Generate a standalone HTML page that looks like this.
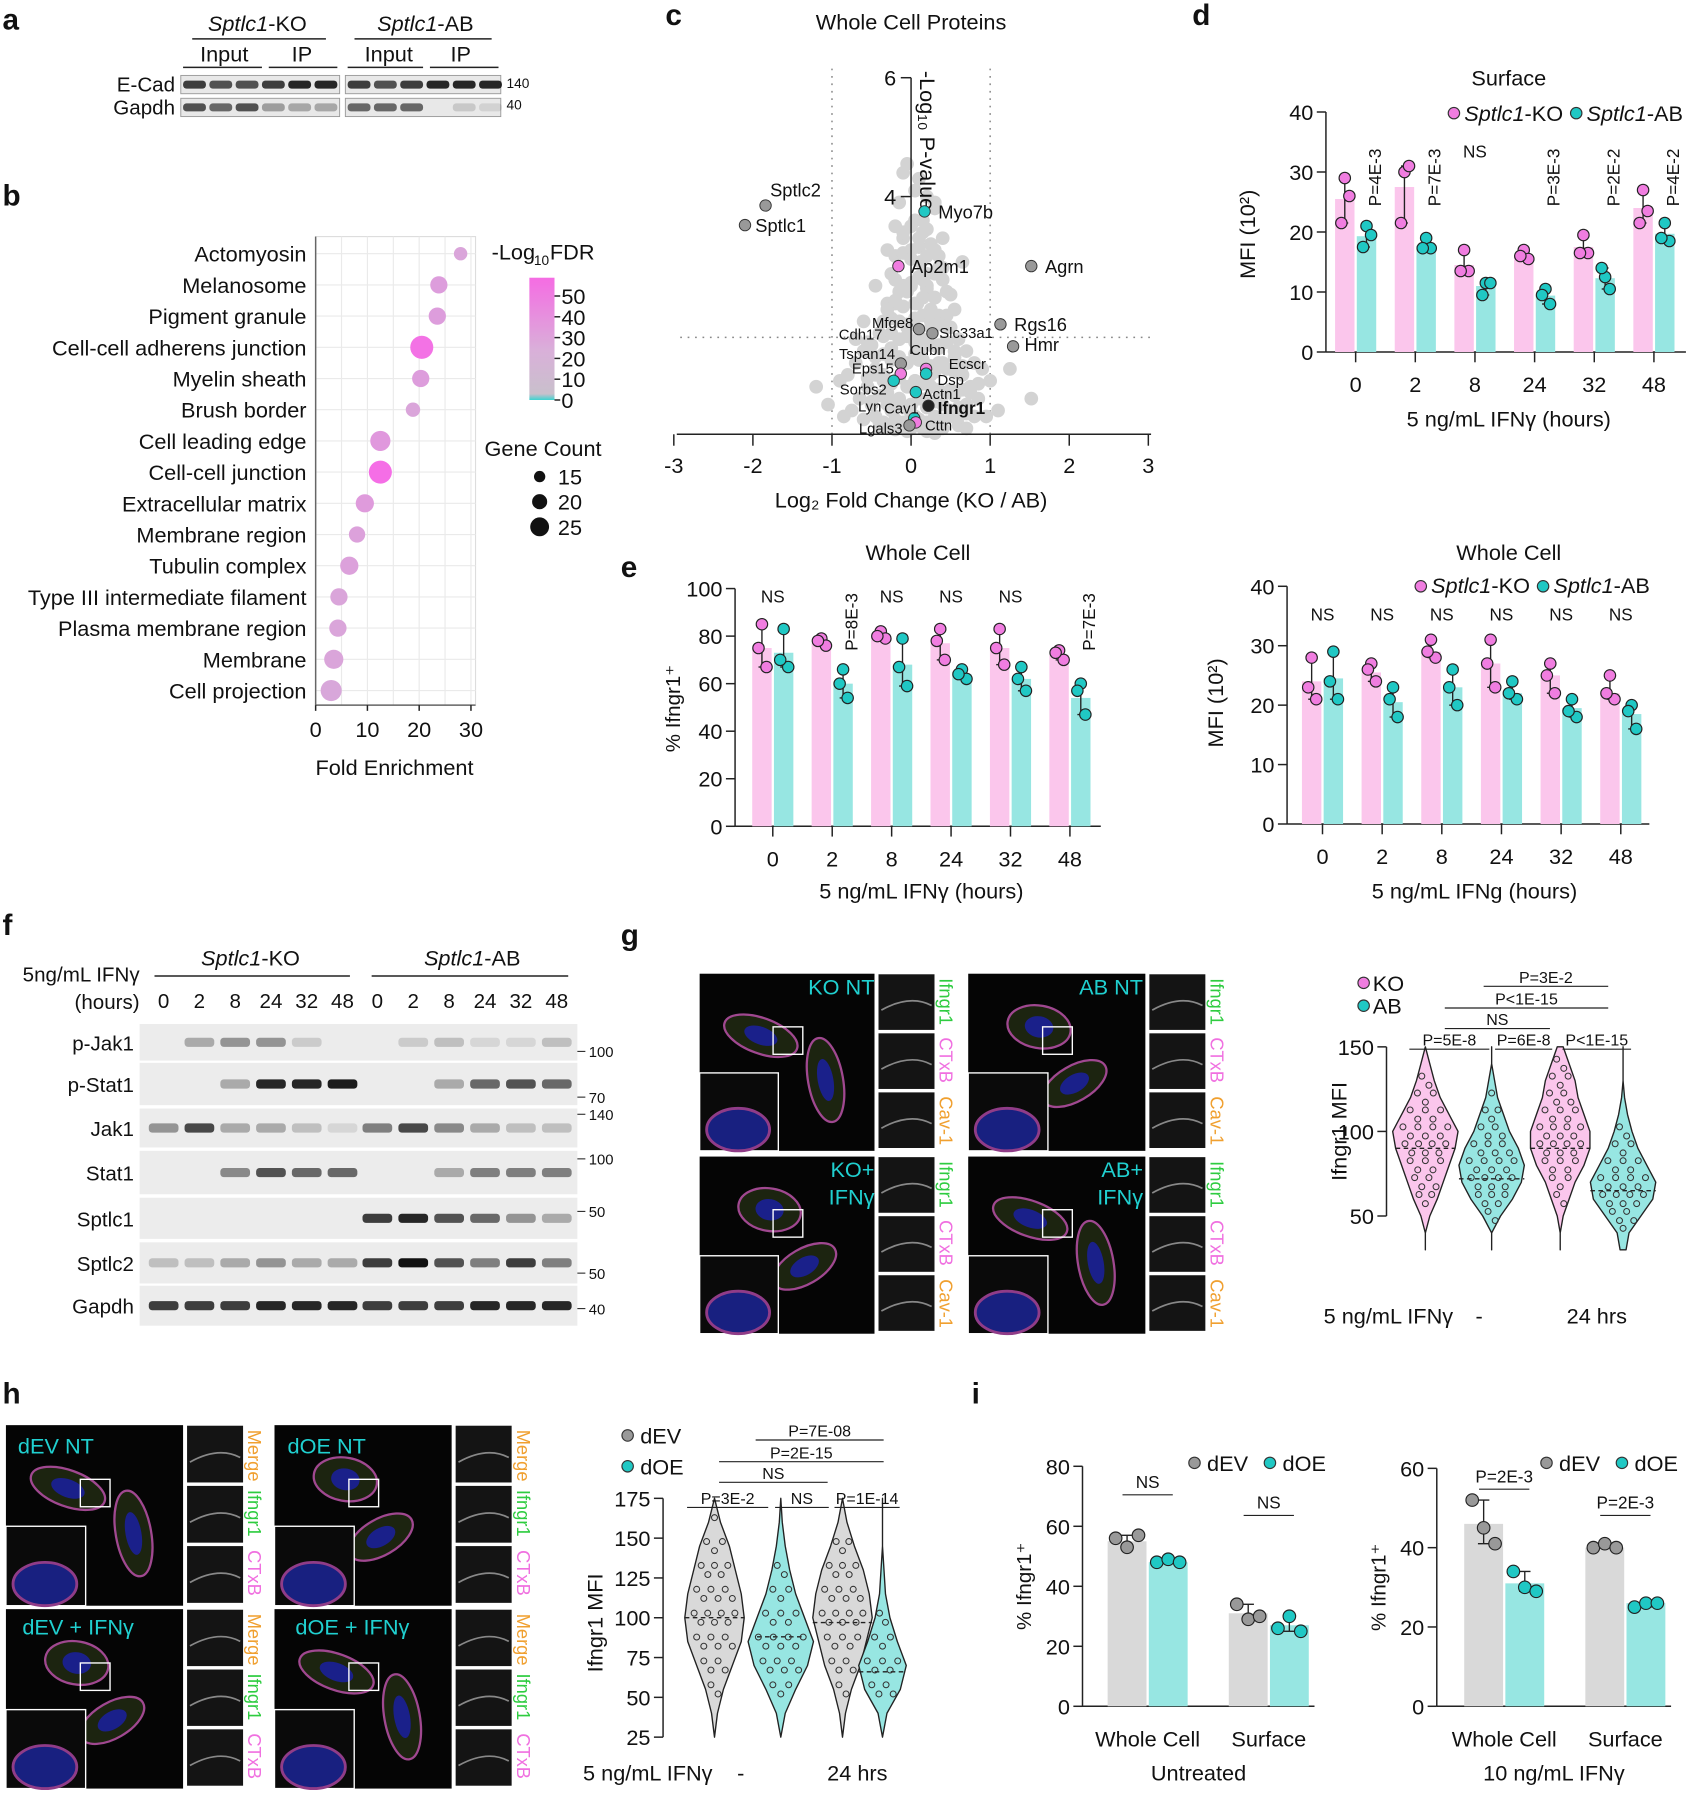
<!DOCTYPE html>
<html><head><meta charset="utf-8"><title>Figure</title>
<style>
html,body{margin:0;padding:0;background:#fff;}
svg{display:block;font-family:"Liberation Sans",Arial,sans-serif;}
</style></head>
<body>
<svg id="fig" xmlns="http://www.w3.org/2000/svg" width="1693" height="1800" viewBox="0 0 1481 1575"></svg>
<script>
// ---------- DATA ----------
const bCats=["Actomyosin","Melanosome","Pigment granule","Cell-cell adherens junction","Myelin sheath","Brush border","Cell leading edge","Cell-cell junction","Extracellular matrix","Membrane region","Tubulin complex","Type III intermediate filament","Plasma membrane region","Membrane","Cell projection"];
const bFold=[28,23.8,23.5,20.5,20.3,18.8,12.5,12.5,9.5,8,6.5,4.5,4.3,3.5,3];
const bFDR=[12,18,18,52,18,12,22,55,20,15,15,12,12,12,10];
const bCount=[14,18,18,24,18,15,21,24,19,17,19,18,18,20,22];
// panel c
const volBgX=[-0.05,0.1,0.2,-0.15,0.3,0.05,-0.2,0.15,0.25,-0.1,0.35,0.0,0.12,-0.25,0.4,0.2,-0.05,0.3,0.08,-0.3,0.45,0.15,-0.35,0.5,0.25,-0.4,0.1,0.6,-0.5,0.35,-0.6,0.7,-0.2,0.55,-0.7,0.8,-0.45,0.9,-0.8,0.65,-0.9,1.0,-0.55,0.75,-0.3,0.45,-0.15,0.2,0.0,-0.65,0.85,-0.75,1.1,-1.05,0.95,-0.85,0.5,-0.4,0.3,-0.1,0.15,0.6,-0.25,0.05,0.4,-0.5,0.7,-0.35,0.25,0.1,-0.05,0.2,0.35,-0.2,0.15,0.05,-0.1,0.3,-0.3,0.45,0.25,-0.15,0.55,-0.6,1.25,-1.2,1.52,-0.45,0.65,-0.7,0.85,0.4,-0.25,0.1,0.2,0.0,0.5,-0.55,0.3,
-0.1,0.0,0.1,0.2,0.3,-0.2,-0.1,0.0,0.1,0.2,0.3,0.4,-0.2,-0.1,0.0,0.1,0.2,0.3,-0.3,-0.2,-0.1,0.05,0.15,0.25,0.35,-0.25,-0.15,-0.05,0.05,0.15,0.25,0.35,0.45,-0.35,-0.25,-0.15,-0.05,0.05,0.15,0.25,0.35,0.45,0.55,-0.45,-0.35,-0.25,-0.15,-0.05,0.05,0.15,0.25,0.35,0.45,0.55,0.65,-0.55,-0.45,-0.35,-0.25,-0.15,-0.05,0.05,0.15,0.25,0.35,0.45,0.55,0.65,0.75,-0.65,-0.5,-0.4,-0.3,-0.2,-0.1,0.0,0.1,0.2,0.3,0.4,0.5,0.6,0.7,0.8,-0.6,-0.45,-0.35,-0.2,-0.1,0.0,0.1,0.2,0.3,0.4,0.5,0.6,0.7,-0.4,-0.3,-0.2,-0.1,0.0,0.1,0.2,0.3,0.4,0.5,-0.15,0.0,0.15,0.3,-0.05,0.05,0.1];
const volBgY=[4.55,4.3,4.0,3.9,3.8,3.6,3.5,3.4,3.2,3.3,3.0,3.1,2.9,2.7,2.6,2.5,2.4,2.3,2.2,2.1,2.0,2.0,1.9,1.8,1.8,1.7,1.6,1.6,1.5,1.5,1.4,1.4,1.3,1.3,1.2,1.2,1.1,1.1,1.0,1.0,0.9,0.9,0.8,0.8,0.7,0.7,0.6,0.6,0.5,0.6,0.6,0.4,0.4,0.5,0.3,0.3,0.3,0.2,0.2,0.1,0.1,0.15,0.4,0.9,1.2,0.5,0.5,1.0,1.0,1.4,1.8,2.7,2.8,2.2,3.6,4.1,4.4,3.9,3.1,2.4,1.9,1.6,2.1,1.9,1.1,0.8,0.6,2.5,2.9,1.6,0.85,3.3,1.45,1.25,0.05,0.35,0.75,1.55,1.05,
3.4,3.5,3.3,3.45,3.1,3.0,3.05,2.95,3.15,3.0,2.7,2.8,2.6,2.5,2.55,2.65,2.45,2.3,2.2,2.25,2.15,2.2,2.3,2.1,2.0,1.95,1.9,1.85,1.95,2.0,1.9,1.85,1.8,1.65,1.7,1.6,1.65,1.55,1.6,1.5,1.45,1.55,1.4,1.3,1.35,1.25,1.3,1.2,1.35,1.25,1.15,1.2,1.1,1.05,1.15,0.95,1.0,0.9,0.85,0.95,0.8,0.9,0.85,0.8,0.75,0.7,0.65,0.75,0.7,0.6,0.55,0.65,0.5,0.55,0.45,0.5,0.6,0.45,0.55,0.5,0.4,0.45,0.35,0.3,0.25,0.3,0.2,0.25,0.2,0.15,0.25,0.2,0.3,0.25,0.35,0.3,0.1,0.12,0.1,0.08,0.12,0.1,0.15,0.1,0.05,0.1,2.35,2.4,2.5,2.6,0.02,0.05,0.3];
const volLabels=["Sptlc2","Sptlc1","Myo7b","Ap2m1","Agrn","Rgs16","Hmr","Mfge8","Slc33a1","Tspan14","Cubn","Eps15","Sorbs2","Dsp","Actn1","Ifngr1","Cav1","Cttn","Lgals3"];
const volLX=[-1.84,-2.1,0.17,-0.16,1.52,1.13,1.29,0.1,0.27,-0.13,0.19,-0.13,-0.22,0.19,0.06,0.22,0.04,0.06,-0.02];
const volLY=[3.85,3.52,3.75,2.83,2.83,1.85,1.48,1.77,1.7,1.19,1.1,1.02,0.9,1.02,0.71,0.48,0.27,0.2,0.15];
const volLC=["g","g","t","p","g","g","g","g","g","g","p","p","t","t","t","k","t","p","g"];
// panel d
const dTimes=["0","2","8","24","32","48"];
const dKO=[25.5,27.5,14.5,15.8,17.5,24];
const dAB=[19.3,17.7,11,9.4,12.3,19.7];
const dKOpts=[[29,26,21.5],[30,31,21.5],[17,13.5,13.5],[17,15.5,16],[19.5,16.5,16.5],[27,23.5,21.5]];
const dABpts=[[21,19.5,17.5],[19,17.3,17.3],[11.5,11.5,9.5],[10.5,8,9.5],[12.5,10.5,14],[21.5,18.5,19]];
const dP=["P=4E-3","P=7E-3","NS","P=3E-3","P=2E-2","P=4E-2"];
const eKO=[75,77,80,77,75,72];
const eAB=[73,60,68,64,62,54];
const eKOpts=[[85,67,75],[79,76,78],[82,79,80],[83,70,78],[83,68,75],[74,70,73]];
const eABpts=[[83,67,70],[66,54,60],[79,59,67],[66,62,64],[67,57,62],[60,47,57]];
const eP=["NS","P=8E-3","NS","NS","NS","P=7E-3"];
const e2KO=[24,25.5,29,27,25,22];
const e2AB=[24.5,20.5,23,22,19.5,18.5];
const e2KOpts=[[28,21,23],[27,24,26],[31,28,29],[31,23,27],[27,22,25],[25,21,22]];
const e2ABpts=[[29,21,24],[23,18,21],[26,20,23],[24,21,22],[21,18,19],[20,16,19]];
const e2P=["NS","NS","NS","NS","NS","NS"];
const fRows=["p-Jak1","p-Stat1","Jak1","Stat1","Sptlc1","Sptlc2","Gapdh"];
const fInt=[[0,.3,.4,.4,.15,0,0,.15,.2,.1,.1,.2],[0,0,.3,.9,.9,.95,0,0,.3,.6,.7,.6],[.4,.75,.3,.3,.2,.1,.5,.75,.45,.3,.2,.2],[0,0,.45,.7,.6,.6,0,0,.3,.5,.5,.5],[0,0,0,0,0,0,.8,.9,.7,.6,.4,.3],[.2,.2,.3,.4,.3,.3,.8,1,.7,.5,.8,.5],[.8,.8,.8,.9,.9,.9,.8,.8,.8,.9,.9,.9]];
const fLanes=["0","2","8","24","32","48","0","2","8","24","32","48"];
const gLevels=[30,40,50,60,70,80,90,100,110,120,130,140,150];
const gWidths=[[0,0,3,8,12,16,20,22,16,10,6,3,0],[0,0,6,14,20,22,18,12,8,4,2,0,0],[0,0,2,6,10,16,20,20,16,12,10,6,2],[2,4,12,20,22,16,10,6,3,1,0,0,0]];
const gMed=[90,72,90,65];
const hLevels=[25,40,55,70,85,100,115,130,145,160,175];
const hWidths=[[0,2,6,12,18,20,18,14,10,4,0],[0,3,10,18,22,16,10,6,3,1,0],[0,2,6,12,16,20,18,14,8,3,0],[0,3,12,16,10,5,2,1,0,0,0]];
const hMed=[100,88,97,66];
const iLcat=["Whole Cell","Surface"];
const iLdEV=[55,31];const iLdOE=[48,27];
const iLdEVpts=[[56,53,57],[34,29,30]];const iLdOEpts=[[48,49,48],[26,30,25]];
const iRdEV=[46,40];const iRdOE=[31,26];
const iRdEVpts=[[52,45,41],[40,41,40]];const iRdOEpts=[[34,30,29],[25,26,26]];

// ---------- HELPERS ----------
const NS="http://www.w3.org/2000/svg";
const svg=document.getElementById('fig');
function mk(tag,a,name,parent){
  const e=document.createElementNS(NS,tag);
  for(const k in a)e.setAttribute(k,a[k]);
  
  
  (parent||svg).appendChild(e);return e;
}
function txt(x,y,s,size,anchor,name,extra){
  const a=Object.assign({x:x,y:y,'font-size':size,'text-anchor':anchor||'start',fill:'#111'},extra||{});
  const e=mk('text',a,name);e.textContent=s;return e;
}
function itxt(x,y,a,b,size,anchor,name){
  const e=mk('text',{x:x,y:y,'font-size':size,'text-anchor':anchor,fill:'#111'},name);
  const t1=mk('tspan',{'font-style':'italic'},name+'-italic',e);t1.textContent=a;
  const t2=mk('tspan',{},name+'-rest',e);t2.textContent=b;return e;
}
function line(x1,y1,x2,y2,name,w,c,dash){
  const a={x1:x1,y1:y1,x2:x2,y2:y2,stroke:c||'#222','stroke-width':w||1.3};
  if(dash)a['stroke-dasharray']=dash;
  return mk('line',a,name);
}
const PINK="#fbc6ec",TEAL="#97e6e2",PINKD="#f07de0",TEALD="#20c8c4";

[["a",2,26],["b",2,180],["c",582,22],["d",1043,22],["e",543,505],["f",2,818],["g",543,827],["h",2,1228],["i",850,1228]].forEach(p=>{
  txt(p[1],p[2],p[0],26,'start','panel-letter-'+p[0],{'font-weight':'bold'});
});

// ---------- PANEL A ----------
itxt(225,27,"Sptlc1","-KO",19,'middle','panel-a-ko-label');
itxt(372,27,"Sptlc1","-AB",19,'middle','panel-a-ab-label');
line(168,34,285,34,'panel-a-ko-bracket');line(310,34,430,34,'panel-a-ab-bracket');
txt(196,54,"Input",19,'middle','panel-a-input1');txt(264,54,"IP",19,'middle','panel-a-ip1');
txt(340,54,"Input",19,'middle','panel-a-input2');txt(403,54,"IP",19,'middle','panel-a-ip2');
line(160,59,229,59,'panel-a-line');line(235,59,295,59,'panel-a-line');line(304,59,370,59,'panel-a-line');line(376,59,436,59,'panel-a-line');
txt(153,80,"E-Cad",18,'end','panel-a-ecad');txt(153,100,"Gapdh",18,'end','panel-a-gapdh');
const aInt=[[.8,.7,.7,.8,.9,.9,.8,.7,.8,.9,.9,.9],[.7,.6,.7,.35,.3,.3,.6,.6,.6,.0,.15,.1]];
[[66,82],[86,102]].forEach((r,ri)=>{
  [[158,297],[302,438]].forEach((s,si)=>{
    mk('rect',{x:s[0],y:r[0],width:s[1]-s[0],height:r[1]-r[0],fill:'#e8e8e8',stroke:'#999','stroke-width':0.8},'blot-strip-a');
    for(let j=0;j<6;j++){
      const v=aInt[ri][si*6+j];const cx=s[0]+12+j*23;
      mk('rect',{x:cx-10,y:(r[0]+r[1])/2-3.5,width:20,height:7,rx:3,fill:'#111','fill-opacity':v},'blot-band');
    }
  });
});
txt(443,77,"140",12,'start','panel-a-mw');txt(443,96,"40",12,'start','panel-a-mw');

// ---------- PANEL B ----------
(function(){
  const x0=276,k=4.53,yT=207,yB=617,y0=222,dy=27.3;
  const X=v=>x0+v*k;
  mk('rect',{x:x0,y:yT,width:30*k+4,height:yB-yT,fill:'#fff',stroke:'#ddd'},'panel-b-plot-area');
  [0,5,10,15,20,25,30].forEach(t=>line(X(t),yT,X(t),yB,'panel-b-gridline',1,'#eaeaea'));
  bCats.forEach((c,i)=>line(x0,y0+i*dy,x0+30*k+4,y0+i*dy,'panel-b-gridline',1,'#eaeaea'));
  line(x0,yT,x0,yB,'panel-b-y-axis',1.3,'#666');
  line(x0,yB,x0+30*k+4,yB,'panel-b-x-axis',1.3,'#666');
  [0,10,20,30].forEach(t=>{line(X(t),yB,X(t),yB+5,'panel-b-x-tick');txt(X(t),yB+28,String(t),19,'middle','panel-b-x-tick-label');});
  txt(345,678,"Fold Enrichment",19,'middle','panel-b-x-axis-title');
  bCats.forEach((c,i)=>{
    txt(268,y0+i*dy+7,c,19,'end','panel-b-category-label');
    const f=bFDR[i]/55;
    const col=`rgb(${Math.round(210+35*f)},${Math.round(180-70*f)},${Math.round(215+15*f)})`;
    mk('circle',{cx:X(bFold[i]),cy:y0+i*dy,r:bCount[i]*0.42,fill:col},'panel-b-dot-'+i);
  });
  txt(430,227,"-Log",19,'start','panel-b-color-legend-title');txt(467,232,"10",12,'start','panel-b-color-legend-sub');txt(481,227,"FDR",19,'start','panel-b-color-legend-title');
  const g=mk('linearGradient',{id:'fdrgrad',x1:0,y1:0,x2:0,y2:1},'fdr-gradient',mk('defs',{},'defs'));
  [[0,'#f56ce3'],[0.6,'#d9b0d9'],[0.95,'#c9c0cc'],[1,'#3cd4d0']].forEach(s=>mk('stop',{offset:s[0],'stop-color':s[1]},'grad-stop',g));
  mk('rect',{x:463,y:243,width:22,height:107,fill:'url(#fdrgrad)'},'panel-b-colorbar');
  [50,40,30,20,10,0].forEach((t,i)=>{const y=259+i*18.2;line(485,y,490,y,'colorbar-tick');txt(491,y+7,String(t),19,'start','colorbar-tick-label');});
  txt(475,399,"Gene Count",19,'middle','panel-b-size-legend-title');
  [[15,417],[20,439],[25,461]].forEach(s=>{mk('circle',{cx:472,cy:s[1],r:s[0]*0.33,fill:'#111'},'size-legend-dot');txt(488,s[1]+7,String(s[0]),19,'start','size-legend-label');});
})();

// ---------- PANEL C ----------
(function(){
  const X=v=>797+v*69.2,Y=v=>380-v*52;
  txt(797,26,"Whole Cell Proteins",19,'middle','panel-c-title');
  line(X(-1),60,X(-1),380,'panel-c-fc-threshold',1.3,'#888','1.5 5');
  line(X(1),60,X(1),380,'panel-c-fc-threshold',1.3,'#888','1.5 5');
  line(595,Y(1.63),1010,Y(1.63),'panel-c-p-threshold',1.3,'#888','1.5 5');
  const n=Math.min(volBgX.length,volBgY.length);
  for(let i=0;i<n;i++)mk('circle',{cx:X(volBgX[i]),cy:Y(volBgY[i]),r:6,fill:'#d3d3d3'},'volcano-point');
  line(797,Y(6),797,Y(1.35),'panel-c-y-axis');
  line(788,Y(6),797,Y(6),'panel-c-y-tick');line(788,Y(4),797,Y(4),'panel-c-y-tick');
  txt(784,Y(6)+7,"6",19,'end','panel-c-y-tick-label');txt(784,Y(4)+7,"4",19,'end','panel-c-y-tick-label');
  const yt=mk('text',{x:805,y:62,'font-size':19,fill:'#111',transform:'rotate(90 805 62)'},'panel-c-y-axis-title');yt.textContent="-Log\u2081\u2080 P-value";
  line(592,380,1007,380,'panel-c-x-axis');
  [-3,-2,-1,0,1,2,3].forEach(t=>{line(X(t),380,X(t),390,'panel-c-x-tick');txt(X(t),414,String(t),19,'middle','panel-c-x-tick-label');});
  txt(797,444,"Log\u2082 Fold Change (KO / AB)",19,'middle','panel-c-x-axis-title');
  const cols={g:'#999',t:TEALD,p:PINKD,k:'#222'};
  const off={Sptlc2:[4,-8,'start'],Sptlc1:[9,6,'start'],Myo7b:[12,6,'start'],Ap2m1:[11,6,'start'],Agrn:[12,6,'start'],Rgs16:[12,6,'start'],Hmr:[10,4,'start'],Mfge8:[-5,-1,'end'],Slc33a1:[6,4,'start'],Tspan14:[-5,-4,'end'],Cubn:[-14,-12,'start'],Eps15:[-6,0,'end'],Sorbs2:[-6,12,'end'],Dsp:[10,10,'start'],Actn1:[6,6,'start'],Ifngr1:[8,7,'start'],Cav1:[4,-4,'end'],Cttn:[8,7,'start'],Lgals3:[-6,7,'end']};
  volLabels.forEach((n,i)=>{
    mk('circle',{cx:X(volLX[i]),cy:Y(volLY[i]),r:5,fill:cols[volLC[i]],stroke:'#333','stroke-width':0.8},'volcano-highlight-'+n);
    const o=off[n];const big=['Sptlc2','Sptlc1','Myo7b','Ap2m1','Agrn','Rgs16','Hmr'].includes(n);
    txt(X(volLX[i])+o[0],Y(volLY[i])+o[1],n,big?16:13,o[2],'volcano-label-'+n,n==='Ifngr1'?{'font-weight':'bold','font-size':15}:{});
  });
  txt(830,323,"Ecscr",13,'start','volcano-label-Ecscr');txt(772,297,"Cdh17",13,'end','volcano-label-Cdh17');txt(771,360,"Lyn",13,'end','volcano-label-Lyn');
})();

// ---------- BAR CHART HELPER ----------
function barChart(o){
  const Y=v=>o.y0-v*o.k;
  line(o.ax,Y(o.ticks[o.ticks.length-1]),o.ax,o.y0,o.id+'-y-axis');
  line(o.ax,o.y0,o.ax2,o.y0,o.id+'-x-axis');
  o.ticks.forEach(t=>{line(o.ax-8,Y(t),o.ax,Y(t),o.id+'-y-tick');txt(o.ax-11,Y(t)+7,String(t),19,'end',o.id+'-y-tick-label');});
  o.cats.forEach((c,i)=>{
    const cx=o.c0+i*o.step;
    line(cx,o.y0,cx,o.y0+9,o.id+'-x-tick');
    txt(cx,o.y0+35,c,19,'middle',o.id+'-x-tick-label');
    [[o.a,o.apts,PINK,PINKD,-1],[o.b,o.bpts,TEAL,TEALD,1]].forEach((s,si)=>{
      const bx=s[4]<0?cx-o.bw-1:cx+1;
      mk('rect',{x:bx,y:Y(s[0][i]),width:o.bw,height:s[0][i]*o.k,fill:s[2]},o.id+(si?'-bar-ab-':'-bar-ko-')+c);
      const mid=bx+o.bw/2;const p=s[1][i];
      const mn=Math.min(...p),mx=Math.max(...p);
      line(mid,Y(mx),mid,Y(mn),o.id+'-error-bar',1.2);
      line(mid-3,Y(mx),mid+3,Y(mx),o.id+'-error-cap',1.2);line(mid-3,Y(mn),mid+3,Y(mn),o.id+'-error-cap',1.2);
      p.forEach((v,j)=>mk('circle',{cx:mid+(j===1?4:j===2?-3:0),cy:Y(v),r:5,fill:s[3],stroke:'#222','stroke-width':1},o.id+'-point'));
    });
    const pl=o.p[i];
    if(pl==='NS')txt(cx,o.pY,"NS",15,'middle',o.id+'-sig-label');
    else txt(cx+22,o.pY-8,pl,15,'end',o.id+'-sig-label',{transform:`rotate(-90 ${cx+22} ${o.pY-8})`});
  });
}
barChart({id:'panel-d',ax:1160,ax2:1475,y0:308,k:5.25,ticks:[0,10,20,30,40],cats:dTimes,c0:1186,step:52.2,bw:17,a:dKO,b:dAB,apts:dKOpts,bpts:dABpts,p:dP,pY:138});
txt(1320,75,"Surface",19,'middle','panel-d-title');
mk('circle',{cx:1272,cy:99,r:5,fill:PINKD,stroke:'#333'},'legend-ko-dot');itxt(1281,106,"Sptlc1","-KO",19,'start','legend-ko-label');
mk('circle',{cx:1379,cy:99,r:5,fill:TEALD,stroke:'#333'},'legend-ab-dot');itxt(1388,106,"Sptlc1","-AB",19,'start','legend-ab-label');
txt(1098,205,"MFI (10²)",19,'middle','panel-d-y-axis-title',{transform:'rotate(-90 1098 205)'});
txt(1320,373,"5 ng/mL IFN\u03b3 (hours)",19,'middle','panel-d-x-axis-title');
barChart({id:'panel-e-left',ax:643,ax2:963,y0:723,k:2.08,ticks:[0,20,40,60,80,100],cats:dTimes,c0:676,step:52,bw:17,a:eKO,b:eAB,apts:eKOpts,bpts:eABpts,p:eP,pY:527});
txt(803,490,"Whole Cell",19,'middle','panel-e-left-title');
txt(595,620,"% Ifngr1\u207a",18,'middle','panel-e-left-y-axis-title',{transform:'rotate(-90 595 620)'});
txt(806,786,"5 ng/mL IFN\u03b3 (hours)",19,'middle','panel-e-left-x-axis-title');
barChart({id:'panel-e-right',ax:1126,ax2:1443,y0:721,k:5.2,ticks:[0,10,20,30,40],cats:dTimes,c0:1157,step:52.2,bw:17,a:e2KO,b:e2AB,apts:e2KOpts,bpts:e2ABpts,p:e2P,pY:543});
txt(1320,490,"Whole Cell",19,'middle','panel-e-right-title');
mk('circle',{cx:1243,cy:513,r:5,fill:PINKD,stroke:'#333'},'legend-ko-dot-e');itxt(1252,519,"Sptlc1","-KO",19,'start','legend-ko-label-e');
mk('circle',{cx:1350,cy:513,r:5,fill:TEALD,stroke:'#333'},'legend-ab-dot-e');itxt(1359,519,"Sptlc1","-AB",19,'start','legend-ab-label-e');
txt(1070,615,"MFI (10²)",19,'middle','panel-e-right-y-axis-title',{transform:'rotate(-90 1070 615)'});
txt(1290,786,"5 ng/mL IFNg (hours)",19,'middle','panel-e-right-x-axis-title');

// ---------- PANEL F ----------
(function(){
  itxt(219,845,"Sptlc1","-KO",19,'middle','panel-f-ko-label');
  itxt(413,845,"Sptlc1","-AB",19,'middle','panel-f-ab-label');
  line(135,854,306,854,'panel-f-ko-bracket');line(325,854,497,854,'panel-f-ab-bracket');
  txt(122,859,"5ng/mL IFN\u03b3",18,'end','panel-f-treatment-label');txt(122,883,"(hours)",18,'end','panel-f-hours-label');
  const lx=i=>i<6?143+i*31.3:330+(i-6)*31.4;
  fLanes.forEach((l,i)=>txt(lx(i),882,l,18,'middle','panel-f-lane-label'));
  const rows=[[896,928],[930,967],[970,1004],[1007,1045],[1048,1084],[1087,1123],[1125,1160]];
  const mw=[["100",920],["70",960],["140",975],["100",1014],["50",1060],["50",1114],["40",1145]];
  rows.forEach((r,ri)=>{
    mk('rect',{x:122,y:r[0],width:383,height:r[1]-r[0],fill:'#ececec'},'panel-f-blot-'+fRows[ri]);
    txt(117,r[0]+(r[1]-r[0])/2+7,fRows[ri],18,'end','panel-f-row-label');
    fInt[ri].forEach((v,i)=>mk('rect',{x:lx(i)-13,y:(r[0]+r[1])/2-4,width:26,height:8,rx:3,fill:'#111','fill-opacity':v},'panel-f-band'));
  });
  mw.forEach(m=>{line(505,m[1],512,m[1],'panel-f-mw-tick',1,'#333');txt(515,m[1]+5,m[0],13,'start','panel-f-mw-label');});
})();

// ---------- MICROGRAPH HELPER ----------
function micro(x,y,w,h,label,lblX,lblY,cells,side,sideLabels,id){
  mk('rect',{x:x,y:y,width:w,height:h,fill:'#050505'},id+'-image');
  cells.forEach(c=>{
    mk('ellipse',{cx:x+c[0]*w,cy:y+c[1]*h,rx:c[2]*w,ry:c[3]*h,fill:'#1c2410',stroke:'#a04890','stroke-width':2,transform:`rotate(${c[4]} ${x+c[0]*w} ${y+c[1]*h})`},id+'-cell');
    mk('ellipse',{cx:x+c[0]*w,cy:y+c[1]*h,rx:c[2]*w*0.45,ry:c[3]*h*0.5,fill:'#1a208a',transform:`rotate(${c[4]} ${x+c[0]*w} ${y+c[1]*h})`},id+'-nucleus');
  });
  mk('rect',{x:x+w*0.42,y:y+h*0.3,width:26,height:24,fill:'none',stroke:'#fff','stroke-width':1.2},id+'-roi-box');
  mk('rect',{x:x,y:y+h*0.56,width:w*0.45,height:h*0.44,fill:'#0a0a0a',stroke:'#fff','stroke-width':1.2},id+'-inset');
  mk('ellipse',{cx:x+w*0.22,cy:y+h*0.88,rx:w*0.18,ry:h*0.12,fill:'#182080',stroke:'#903c88','stroke-width':2.5},id+'-inset-cell');
  for(let i=0;i<3;i++){
    mk('rect',{x:x+w+3,y:y+i*h/3,width:side,height:h/3-2,fill:'#141414',stroke:'#fff','stroke-width':1},id+'-channel-tile');
    mk('path',{d:`M${x+w+6} ${y+i*h/3+h/6+6} q${side/2} -14 ${side-6} -4`,fill:'none',stroke:'#888','stroke-width':1.5},id+'-channel-signal');
  }
  txt(lblX,lblY,label[0],19,'end',id+'-label',{fill:'#20d0d0'});
  if(label[1])txt(lblX,lblY+24,label[1],19,'end',id+'-label2',{fill:'#20d0d0'});
  sideLabels.forEach((s,i)=>{const sx=x+w+side+7,sy=y+i*h/3+4;txt(sx,sy,s[0],16,'start',id+'-channel-label',{fill:s[1],transform:`rotate(90 ${sx} ${sy})`});});
}
const gSide=[["Ifngr1","#2ecc40"],["CTxB","#f070e0"],["Cav-1","#f0a030"]];
const cellsA=[[0.35,0.35,0.22,0.1,20],[0.72,0.6,0.1,0.24,-10]];
const cellsB=[[0.4,0.3,0.18,0.12,10],[0.6,0.62,0.2,0.1,-30]];
micro(612,852,153,155,["KO NT"],765,870,cellsA,50,gSide,'panel-g-ko-nt');
micro(847,852,155,155,["AB NT"],1000,870,cellsB,50,gSide,'panel-g-ab-nt');
micro(612,1012,153,155,["KO+","IFN\u03b3"],765,1030,cellsB,50,gSide,'panel-g-ko-ifn');
micro(847,1012,155,155,["AB+","IFN\u03b3"],1000,1030,cellsA,50,gSide,'panel-g-ab-ifn');
const hSide=[["Merge","#f0a030"],["Ifngr1","#2ecc40"],["CTxB","#f070e0"]];
micro(5,1247,155,158,["dEV NT"],82,1272,cellsA,50,hSide,'panel-h-dev-nt');
micro(240,1247,155,158,["dOE NT"],320,1272,cellsB,50,hSide,'panel-h-doe-nt');
micro(5,1408,155,157,["dEV + IFN\u03b3"],117,1430,cellsB,50,hSide,'panel-h-dev-ifn');
micro(240,1408,155,157,["dOE + IFN\u03b3"],358,1430,cellsA,50,hSide,'panel-h-doe-ifn');

// ---------- VIOLIN HELPER ----------
function violins(o){
  const Y=v=>o.y0-(v-o.v0)*o.k;
  line(o.ax,Y(o.ticks[o.ticks.length-1]),o.ax,Y(o.ticks[0]),o.id+'-y-axis');
  o.ticks.forEach(t=>{line(o.ax-8,Y(t),o.ax,Y(t),o.id+'-y-tick');txt(o.ax-11,Y(t)+7,String(t),19,'end',o.id+'-y-tick-label');});
  o.widths.forEach((ws,gi)=>{
    const cx=o.cx[gi];let d='';
    o.levels.forEach((l,i)=>{d+=(i?'L':'M')+(cx-ws[i]*o.ws)+' '+Y(l)+' ';});
    for(let i=o.levels.length-1;i>=0;i--)d+='L'+(cx+ws[i]*o.ws)+' '+Y(o.levels[i])+' ';
    mk('path',{d:d+'Z',fill:o.fill[gi],stroke:'#222','stroke-width':1.2,'stroke-linejoin':'round'},o.id+'-violin-'+gi);
    const mi=o.levels.findIndex(l=>l>=o.med[gi]);const mw=ws[Math.max(mi,0)]*o.ws;
    line(cx-mw,Y(o.med[gi]),cx+mw,Y(o.med[gi]),o.id+'-median',1.2,'#222','4 3');
    ws.forEach((w,i)=>{if(w>3){const n=Math.round(w/3);for(let j=0;j<n;j++){mk('circle',{cx:cx-w*o.ws*0.8+(j+0.5)*(1.6*w*o.ws/n),cy:Y(o.levels[i])+((j%2)?4:-4),r:2.6,fill:'none',stroke:'#333','stroke-width':0.9},o.id+'-point');}}});
  });
}
violins({id:'panel-g-violin',ax:1213,y0:1064,v0:50,k:1.48,ticks:[50,100,150],levels:gLevels,widths:gWidths,ws:1.3,cx:[1247,1305,1365,1420],fill:['#fbc6ec','#97e6e2','#fbc6ec','#97e6e2'],med:gMed});
txt(1178,990,"Ifngr1 MFI",19,'middle','panel-g-y-axis-title',{transform:'rotate(-90 1178 990)'});
mk('circle',{cx:1193,cy:860,r:5,fill:PINKD,stroke:'#333'},'panel-g-legend-ko-dot');txt(1201,867,"KO",19,'start','panel-g-legend-ko');
mk('circle',{cx:1193,cy:880,r:5,fill:TEALD,stroke:'#333'},'panel-g-legend-ab-dot');txt(1201,887,"AB",19,'start','panel-g-legend-ab');
[[1298,1407,860,"P=3E-2"],[1264,1407,879,"P<1E-15"],[1264,1356,897,"NS"],[1233,1303,915,"P=5E-8"],[1308,1358,915,"P=6E-8"],[1367,1427,915,"P<1E-15"]].forEach(s=>{
  line(s[0],s[2]+3,s[1],s[2]+3,'panel-g-sig-bracket',1);txt((s[0]+s[1])/2,s[2],s[3],14,'middle','panel-g-sig-label');
});
txt(1158,1158,"5 ng/mL IFN\u03b3",19,'start','panel-g-x-label');txt(1294,1158,"-",19,'middle','panel-g-x-minus');txt(1397,1158,"24 hrs",19,'middle','panel-g-x-24');

violins({id:'panel-h-violin',ax:580,y0:1520,v0:25,k:1.393,ticks:[25,50,75,100,125,150,175],levels:hLevels,widths:hWidths,ws:1.3,cx:[625,683,737,772],fill:['#d9d9d9','#97e6e2','#d9d9d9','#97e6e2'],med:hMed});
txt(527,1420,"Ifngr1 MFI",19,'middle','panel-h-y-axis-title',{transform:'rotate(-90 527 1420)'});
mk('circle',{cx:549,cy:1256,r:5,fill:'#999',stroke:'#333'},'panel-h-legend-dev-dot');txt(560,1263,"dEV",19,'start','panel-h-legend-dev');
mk('circle',{cx:549,cy:1283,r:5,fill:TEALD,stroke:'#333'},'panel-h-legend-doe-dot');txt(560,1290,"dOE",19,'start','panel-h-legend-doe');
[[661,773,1257,"P=7E-08"],[629,773,1276,"P=2E-15"],[629,724,1294,"NS"],[601,672,1316,"P=3E-2"],[678,725,1316,"NS"],[730,787,1316,"P=1E-14"]].forEach(s=>{
  line(s[0],s[2]+3,s[1],s[2]+3,'panel-h-sig-bracket',1);txt((s[0]+s[1])/2,s[2],s[3],14,'middle','panel-h-sig-label');
});
txt(510,1558,"5 ng/mL IFN\u03b3",19,'start','panel-h-x-label');txt(648,1558,"-",19,'middle','panel-h-x-minus');txt(750,1558,"24 hrs",19,'middle','panel-h-x-24');

// ---------- PANEL I ----------
function iChart(o){
  const Y=v=>o.y0-v*o.k;
  line(o.ax,Y(o.ticks[o.ticks.length-1]),o.ax,o.y0,o.id+'-y-axis');
  line(o.ax,o.y0,o.ax2,o.y0,o.id+'-x-axis');
  o.ticks.forEach(t=>{line(o.ax-8,Y(t),o.ax,Y(t),o.id+'-y-tick');txt(o.ax-11,Y(t)+7,String(t),19,'end',o.id+'-y-tick-label');});
  iLcat.forEach((c,i)=>{
    const cx=o.c0+i*o.step;
    txt(cx,o.y0+35,c,19,'middle',o.id+'-x-label');
    [[o.a,o.apts,'#d9d9d9','#999',-1],[o.b,o.bpts,TEAL,TEALD,1]].forEach((s,si)=>{
      const bx=s[4]<0?cx-o.bw-1:cx+1;const mid=bx+o.bw/2;
      mk('rect',{x:bx,y:Y(s[0][i]),width:o.bw,height:s[0][i]*o.k,fill:s[2]},o.id+'-bar');
      const p=s[1][i];const mn=Math.min(...p),mx=Math.max(...p);
      line(mid,Y(mx),mid,Y(mn),o.id+'-error-bar',1.2);line(mid-5,Y(mx),mid+5,Y(mx),o.id+'-error-cap',1.2);line(mid-5,Y(mn),mid+5,Y(mn),o.id+'-error-cap',1.2);
      p.forEach((v,j)=>mk('circle',{cx:mid+(j-1)*10,cy:Y(v),r:5.5,fill:s[3],stroke:'#222','stroke-width':1},o.id+'-point'));
    });
    txt(cx,o.sigY[i],o.sig[i],15,'middle',o.id+'-sig-label');line(cx-22,o.sigY[i]+6,cx+22,o.sigY[i]+6,o.id+'-sig-line',1);
  });
  const my=(o.y0+Y(o.ticks[o.ticks.length-1]))/2;
  txt(o.ax-45,my,"% Ifngr1\u207a",18,'middle',o.id+'-y-title',{transform:`rotate(-90 ${o.ax-45} ${my})`});
  txt((o.ax+o.ax2)/2,o.y0+65,o.xt,19,'middle',o.id+'-x-title');
}
iChart({id:'panel-i-left',ax:947,ax2:1150,y0:1493,k:2.625,ticks:[0,20,40,60,80],c0:1004,step:106,bw:34,a:iLdEV,b:iLdOE,apts:iLdEVpts,bpts:iLdOEpts,sig:["NS","NS"],sigY:[1302,1320],xt:"Untreated"});
iChart({id:'panel-i-right',ax:1257,ax2:1462,y0:1493,k:3.47,ticks:[0,20,40,60],c0:1316,step:106,bw:34,a:iRdEV,b:iRdOE,apts:iRdEVpts,bpts:iRdOEpts,sig:["P=2E-3","P=2E-3"],sigY:[1297,1320],xt:"10 ng/mL IFN\u03b3"});
mk('circle',{cx:1045,cy:1280,r:5,fill:'#999',stroke:'#333'},'panel-i-legend-dev-dot');txt(1056,1287,"dEV",19,'start','panel-i-legend-dev');
mk('circle',{cx:1111,cy:1280,r:5,fill:TEALD,stroke:'#333'},'panel-i-legend-doe-dot');txt(1122,1287,"dOE",19,'start','panel-i-legend-doe');
mk('circle',{cx:1353,cy:1280,r:5,fill:'#999',stroke:'#333'},'panel-i-legend-dev-dot2');txt(1364,1287,"dEV",19,'start','panel-i-legend-dev2');
mk('circle',{cx:1419,cy:1280,r:5,fill:TEALD,stroke:'#333'},'panel-i-legend-doe-dot2');txt(1430,1287,"dOE",19,'start','panel-i-legend-doe2');
</script>
</body></html>
